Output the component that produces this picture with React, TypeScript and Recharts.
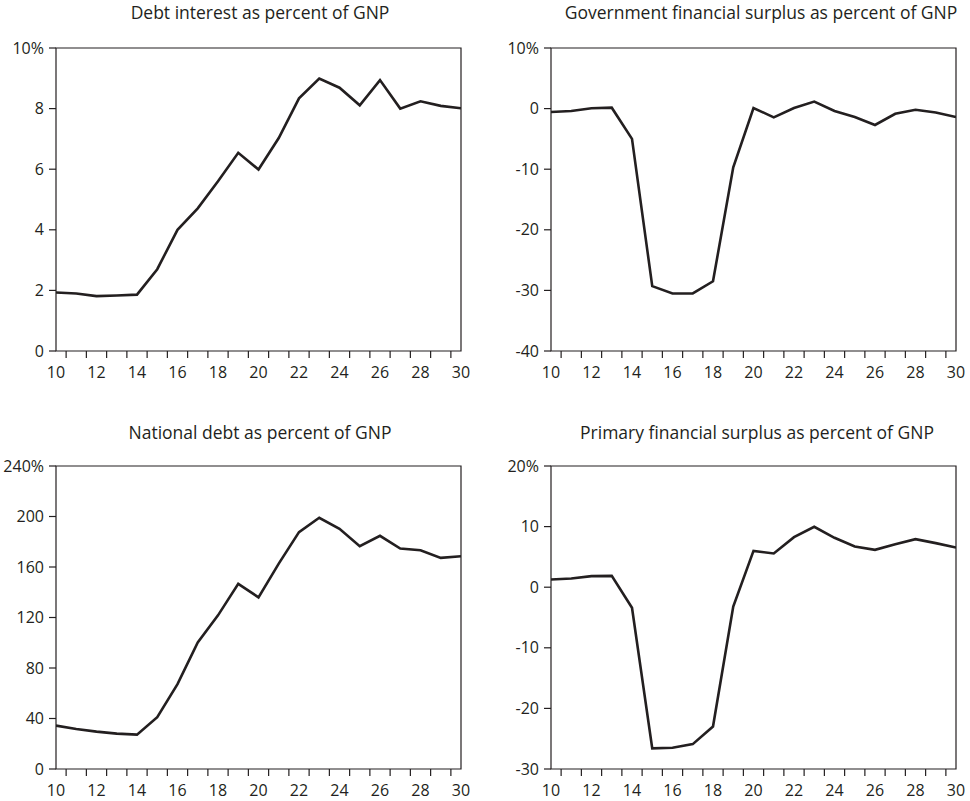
import React from 'react';
import { LineChart, Line, XAxis, YAxis, ReferenceArea } from 'recharts';

const years = [10, 11, 12, 13, 14, 15, 16, 17, 18, 19, 20, 21, 22, 23, 24, 25, 26, 27, 28, 29, 30];

const debtInterest = [1.93, 1.9, 1.81, 1.83, 1.86, 2.7, 4.0, 4.71, 5.6, 6.54, 5.99, 7.03, 8.34, 8.99, 8.69, 8.11, 8.94, 8.0, 8.24, 8.09, 8.01];
const govSurplus = [-0.55, -0.4, 0.05, 0.15, -5.0, -29.3, -30.5, -30.5, -28.5, -9.7, 0.1, -1.45, 0.1, 1.15, -0.4, -1.4, -2.7, -0.85, -0.2, -0.65, -1.4];
const nationalDebt = [34.4, 31.7, 29.6, 28.0, 27.2, 41.0, 67.2, 100.3, 121.7, 146.6, 136.0, 162.7, 187.6, 199.0, 190.2, 176.5, 184.7, 174.6, 173.3, 167.2, 168.5];
const primarySurplus = [1.27, 1.43, 1.82, 1.87, -3.4, -26.6, -26.5, -25.9, -23.0, -3.2, 6.0, 5.56, 8.26, 9.97, 8.15, 6.72, 6.17, 7.1, 7.93, 7.27, 6.55];

const xLabelYears = [10, 12, 14, 16, 18, 20, 22, 24, 26, 28, 30];
const xMinorTicks = [10.5, 11.5, 12.5, 13.5, 14.5, 15.5, 16.5, 17.5, 18.5, 19.5, 20.5, 21.5, 22.5, 23.5, 24.5, 25.5, 26.5, 27.5, 28.5, 29.5];

const yTicksDebtInterest = [0, 2, 4, 6, 8, 10];
const yTicksGovSurplus = [-40, -30, -20, -10, 0, 10];
const yTicksNationalDebt = [0, 40, 80, 120, 160, 200, 240];
const yTicksPrimarySurplus = [-30, -20, -10, 0, 10, 20];

const titles = [
  'Debt interest as percent of GNP',
  'Government financial surplus as percent of GNP',
  'National debt as percent of GNP',
  'Primary financial surplus as percent of GNP',
];

const INK = '#231f20';
const FONT = '"Open Sans", sans-serif';

const allXTicks = [...xLabelYears, ...xMinorTicks].sort((a, b) => a - b);
const labelSet = new Set(xLabelYears);

const XTick = (props: any) => {
  const { x, y, payload } = props;
  const v = payload.value;
  if (labelSet.has(v)) {
    return (
      <text x={x} y={y + 27} textAnchor="middle" fill={INK} fontSize={16} fontFamily={FONT}>
        {v}
      </text>
    );
  }
  return <line x1={x} x2={x} y1={y} y2={y + 7} stroke={INK} strokeWidth={1.2} />;
};

type PanelProps = {
  values: number[];
  yTicks: number[];
  left: number;
  top: number;
};

const Panel = ({ values, yTicks, left, top }: PanelProps) => {
  const data = years.map((yr, i) => ({ year: yr, value: values[i] }));
  const yMin = yTicks[0];
  const yMax = yTicks[yTicks.length - 1];
  return (
    <div style={{ position: 'absolute', left, top }}>
      <LineChart width={485} height={400} data={data} margin={{ top: 48, right: 24, bottom: 9, left: 6 }}>
        <XAxis
          dataKey="year"
          type="number"
          domain={[10, 30]}
          ticks={allXTicks}
          interval={0}
          tickSize={0}
          tickMargin={0}
          tickLine={false}
          axisLine={false}
          height={40}
          tick={<XTick />}
          allowDataOverflow
        />
        <YAxis
          type="number"
          domain={[yMin, yMax]}
          ticks={yTicks}
          interval={0}
          width={50}
          tickSize={7}
          tickMargin={5}
          axisLine={false}
          tickLine={{ stroke: INK, strokeWidth: 1.2 }}
          tick={{ fill: INK, fontSize: 16, fontFamily: FONT }}
          tickFormatter={(v: number) => (v === yMax ? `${v}%` : `${v}`)}
          allowDataOverflow
        />
        <ReferenceArea x1={10} x2={30} y1={yMin} y2={yMax} fill="none" fillOpacity={0} stroke={INK} strokeWidth={1.2} />
        <Line
          type="linear"
          dataKey="value"
          stroke={INK}
          strokeWidth={2.6}
          dot={false}
          activeDot={false}
          isAnimationActive={false}
        />
      </LineChart>
    </div>
  );
};

export default function App() {
  return (
    <div style={{ position: 'absolute', left: 0, top: 0, width: 970, height: 801, background: '#fff', fontFamily: FONT }}>
      <Panel values={debtInterest} yTicks={yTicksDebtInterest} left={0} top={0} />
      <Panel values={govSurplus} yTicks={yTicksGovSurplus} left={495} top={0} />
      <Panel values={nationalDebt} yTicks={yTicksNationalDebt} left={0} top={418} />
      <Panel values={primarySurplus} yTicks={yTicksPrimarySurplus} left={495} top={418} />
      <svg width={970} height={801} style={{ position: 'absolute', left: 0, top: 0, pointerEvents: 'none' }}>
        <text x={260} y={19} textAnchor="middle" fill={INK} fontSize={17.5} fontFamily={FONT}>{titles[0]}</text>
        <text x={761} y={19} textAnchor="middle" fill={INK} fontSize={17.5} fontFamily={FONT}>{titles[1]}</text>
        <text x={260} y={439} textAnchor="middle" fill={INK} fontSize={17.5} fontFamily={FONT}>{titles[2]}</text>
        <text x={757} y={439} textAnchor="middle" fill={INK} fontSize={17.5} fontFamily={FONT}>{titles[3]}</text>
      </svg>
    </div>
  );
}
